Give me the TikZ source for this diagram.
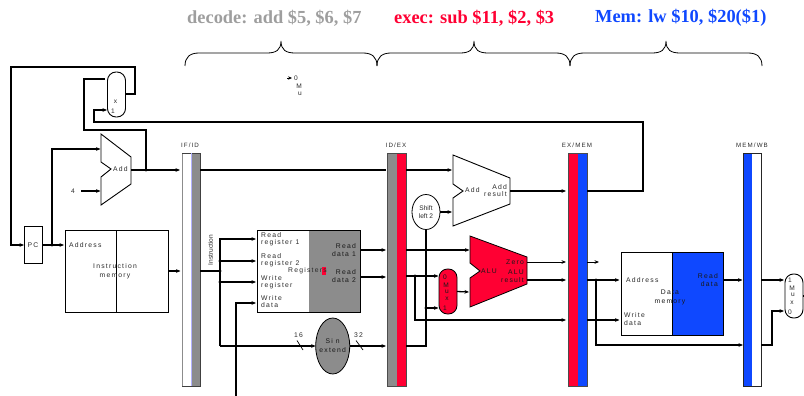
\documentclass[tikz,border=0pt]{standalone}
\usepackage{fontspec}
\setmainfont{Liberation Sans}
\newfontfamily\lsf[LetterSpace=18]{Liberation Sans}
\newfontfamily\tightf{Liberation Sans}
\newfontfamily\headf{Liberation Serif}
\usetikzlibrary{arrows.meta,calc,shapes.geometric}
\definecolor{pgray}{HTML}{8C8C8C}
\definecolor{pred}{HTML}{FF0033}
\definecolor{pblue}{HTML}{0F48FF}
\definecolor{tgray}{HTML}{2A2A2A}
\tikzset{
  wire/.style={line width=1.3pt,line cap=butt,line join=miter},
  thick wire/.style={line width=1.7pt,line join=miter},
  thin wire/.style={line width=0.9pt},
  tip/.style={-{Stealth[length=4.5pt,width=3.6pt]}},
  box/.style={draw=black,line width=0.9pt,inner sep=0pt,outer sep=0pt,fill=white},
  halfbox/.style={inner sep=0pt,outer sep=0pt},
  lab/.style={font=\fontsize{6.8}{7.4}\selectfont\lsf,text=tgray,inner sep=0pt,align=left},
  labc/.style={lab,align=center},
  labr/.style={lab,align=right},
  ondark/.style={text=black!90},
  small/.style={font=\fontsize{6.6}{7}\selectfont\tightf,text=tgray,inner sep=0pt,align=center},
  pipelab/.style={lab,font=\fontsize{6.2}{7}\selectfont\lsf},
  head/.style={font=\fontsize{18.4}{20}\selectfont\headf\bfseries,inner sep=0pt},
  dot/.style={circle,fill=black,inner sep=0pt,minimum size=3.2pt},
  bracel/.style={line width=0.8pt},
}
\begin{document}
\begin{tikzpicture}[x=1pt,y=-1pt]
\useasboundingbox (0,0) rectangle (804,396);

% headings
\node[head,text=black!38,anchor=west] (hdec) at (187,18) {decode: add \$5, \$6, \$7};
\node[head,text=pred,anchor=west] (hexe) at (394,18) {exec: sub \$11, \$2, \$3};
\node[head,text=pblue,anchor=west] (hmem) at (595,18) {Mem: lw \$10, \$20(\$1)};

% braces
\foreach \a/\t/\b in {185/281/377,377/474/570,570/666/762}{
  \draw[bracel] (\a,66) .. controls (\a,57) and (\a+5,53) .. (\a+14,53)
     -- (\t-14,53) .. controls (\t-5,53) and (\t,50) .. (\t,41)
     .. controls (\t,50) and (\t+5,53) .. (\t+14,53)
     -- (\b-14,53) .. controls (\b-5,53) and (\b,57) .. (\b,66);
}

% stray mux fragment
\node[small] (fz) at (296,78) {0};
\node[small] (fm) at (299,86) {M};
\node[small] (fu) at (300,94) {u};
\coordinate (fstart) at (287,78);
\coordinate (fend) at (292,78);
\draw[-{Stealth[length=4pt,width=3.4pt]},line width=0.5pt] (fstart) -- (fend);

% pipeline registers
\node[halfbox,fill=white,minimum width=9pt,minimum height=233pt] (ifl) at (186.5,269.5) {};
\node[halfbox,fill=pgray,minimum width=9pt,minimum height=233pt] (ifr) at (195.5,269.5) {};
\draw[black!45,line width=0.9pt] (ifl.north west) -- (ifl.south west);
\draw[black!75,line width=0.9pt] (ifl.north west) -- (ifr.north east) -- (ifr.south east) -- (ifl.south west);
\draw[blue!30,line width=0.7pt] (ifl.north east) -- (ifl.south east);
\node[pipelab] (tifid) at (190,145) {IF/ID};

\node[halfbox,fill=pgray,minimum width=10pt,minimum height=233pt] (idl) at (392,269.5) {};
\node[halfbox,fill=pred,minimum width=9pt,minimum height=233pt] (idr) at (401.5,269.5) {};
\draw[black!70,line width=0.9pt] (idl.north west) rectangle (idr.south east);
\node[pipelab] (tidex) at (396,145) {ID/EX};

\node[halfbox,fill=pred,minimum width=10pt,minimum height=233pt] (exl) at (573,269.5) {};
\node[halfbox,fill=pblue,minimum width=9pt,minimum height=233pt] (exr) at (582.5,269.5) {};
\draw[black!70,line width=0.9pt] (exl.north west) rectangle (exr.south east);
\node[pipelab] (texmem) at (577,145) {EX/MEM};

\node[halfbox,fill=pblue,minimum width=9pt,minimum height=233pt] (mwl) at (747.5,269.5) {};
\node[halfbox,fill=white,minimum width=9pt,minimum height=233pt] (mwr) at (756.5,269.5) {};
\draw[black!85,line width=0.9pt] (mwl.north west) rectangle (mwr.south east);
\node[pipelab] (tmemwb) at (752,145) {MEM/WB};

% PC
\node[box,minimum width=18pt,minimum height=37pt] (pc) at (33,244.5) {};
\node[lab] (tpc) at (33,245) {PC};

% instruction memory
\node[box,minimum width=103pt,minimum height=82pt] (imem) at (116.5,271) {};
\draw[line width=0.9pt] (imem.north) -- (imem.south);
\node[lab,anchor=west] (taddr) at (69,245) {Address};
\node[labc,font=\fontsize{6.8}{9}\selectfont\lsf] (tim) at (115,271) {Instruction\\memory};

% mux at top-left
\node[box,rounded corners=8.5pt,minimum width=18pt,minimum height=45pt] (pcmux) at (116.5,94.5) {};
\node[small] (tmx) at (115.5,102) {x};
\node[small] (tm1) at (113,111) {1};

% adders and ALU
\draw[line width=0.9pt,fill=white] (101,134) -- (131,157) -- (131,184) -- (101,205) -- (101,177) -- (111,169) -- (101,162) -- cycle;
\node[lab] (tadd1) at (120.5,169.5) {Add};
\node[small] (tfour) at (73,191) {4};

\draw[line width=0.9pt,fill=white] (453,155) -- (510,178) -- (510,204) -- (453,226) -- (453,198) -- (463,191) -- (453,184) -- cycle;
\node[lab] (tadd2) at (472.5,190.5) {Add};
\node[labr,anchor=east] (tadd3) at (507,190.5) {Add\\result};

\draw[line width=0.8pt,fill=pred] (470,236) -- (527,257) -- (527,284) -- (470,307) -- (470,278) -- (480,271) -- (470,263) -- cycle;
\node[lab,ondark] (talu) at (489,271) {ALU};
\node[lab,ondark,anchor=east] (tzero) at (524,262) {Zero};
\node[labr,ondark,anchor=east] (talu2) at (524,276) {ALU\\result};

% registers
\node[box,minimum width=103pt,minimum height=82pt] (regs) at (308.5,271) {};
\fill[pgray] (309,230.5) rectangle (359.5,311.5);
\draw[line width=0.9pt] (regs.north west) rectangle (regs.south east);
\fill[pred] (322,267) rectangle (326,275);
\node[lab] (treg) at (307.5,271) {Registers};
\node[lab,anchor=north west] (rr1) at (261,232) {Read\\register 1};
\node[lab,anchor=north west] (rr2) at (261,253) {Read\\register 2};
\node[lab,anchor=north west] (wr) at (261,275) {Write\\register};
\node[lab,anchor=north west] (wd) at (261,295) {Write\\data};
\node[labr,ondark,anchor=north east] (rd1) at (356,243.5) {Read\\data 1};
\node[labr,ondark,anchor=north east] (rd2) at (356,269.5) {Read\\data 2};

% sign extend and shift
\node[draw=black,line width=0.8pt,fill=pgray,ellipse,minimum width=34pt,minimum height=56pt,inner sep=0pt,outer sep=0pt] (sext) at (332.7,346) {};
\node[labc,ondark,font=\fontsize{6.8}{9}\selectfont\lsf] (tsext) at (332.7,345.5) {Si n\\extend};
\node[draw=black,line width=0.8pt,fill=white,ellipse,minimum width=28pt,minimum height=35pt,inner sep=0pt,outer sep=0pt] (shl) at (426,212) {};
\node[labc,font=\fontsize{6.6}{8.4}\selectfont\tightf] (tshl) at (426,212) {Shift\\left 2};

% red mux
\node[draw=black,line width=0.8pt,fill=pred,rounded corners=8.5pt,minimum width=18pt,minimum height=45pt,inner sep=0pt,outer sep=0pt] (alumux) at (448,291.5) {};
\node[small,ondark] (am0) at (445,277) {0};
\node[small,ondark] (amm) at (446,285) {M};
\node[small,ondark] (amu) at (447,291.5) {u};
\node[small,ondark] (amx) at (447,298.5) {x};
\node[small,ondark] (am1) at (445,308) {1};

% data memory
\node[box,minimum width=102pt,minimum height=83pt] (dmem) at (672,293.5) {};
\fill[pblue] (672,252.5) rectangle (722.5,334.5);
\draw[line width=0.9pt] (dmem.north west) rectangle (dmem.south east);
\draw[line width=0.9pt] (dmem.north) -- (dmem.south);
\node[lab,anchor=west] (dma) at (626,280) {Address};
\node[labr,ondark,anchor=north east] (dmr) at (718,273.5) {Read\\data};
\node[lab,anchor=north west] (dmw) at (624,312.5) {Write\\data};
\node[labc,ondark,font=\fontsize{6.8}{9}\selectfont\lsf] (dmd) at (670,297.5) {Data\\memory};

% write back mux
\node[box,rounded corners=8.5pt,minimum width=18pt,minimum height=44pt] (wbmux) at (794,296) {};
\node[small] (wb1) at (790,280) {1};
\node[small] (wbm) at (792,288) {M};
\node[small] (wbu) at (793,295) {u};
\node[small] (wbx) at (792,303) {x};
\node[small] (wb0) at (790,312) {0};

% junction coordinates
\coordinate (j1) at (52,245);
\coordinate (j2) at (146,170);
\coordinate (j3) at (220,271);
\coordinate (j4) at (220,261);
\coordinate (j5) at (220,282);
\coordinate (j6) at (415,276);
\coordinate (j7) at (426,308);
\coordinate (j8) at (596,280);
\coordinate (wdfree) at (236,396);
\coordinate (stub) at (804,296);

% PC loop
\draw[thick wire,tip] (pcmux.east |- 0,94) -- (135,94) -- (135,67) -- (11,67) -- (11,245) -- (pc.west |- 0,245);
\draw[thick wire] (105,79) -- (84,79) -- (84,130) -- (146,130) -- (j2);
\draw[wire,tip] (587,191) -- (643,191) -- (643,122) -- (94,122) -- (94,110) -- (107,110);
\draw[thick wire,tip] (pc.east |- 0,245) -- (64,245);
\draw[wire,tip] (j1) -- (52,149) -- (100.5,149);
\draw[thick wire,tip] (81,191) -- (100.5,191);
\draw[thick wire,tip] (131,170) -- (180,170);
\draw[wire,tip] (imem.east) -- (180.5,271);

% IF/ID outputs
\draw[wire] (ifr.east |- 0,170) -- (386,170);
\draw[wire] (ifr.east |- 0,271) -- (j3);
\draw[wire,tip] (220,346) -- (220,239) -- (256,239);
\draw[wire,tip] (j4) -- (256,261);
\draw[wire,tip] (j5) -- (256,282);
\draw[wire,tip] (220,346) -- (sext.west |- 0,346);
\draw[wire,tip] (wdfree) -- (236,303) -- (256,303);
\node[small,rotate=90] (tinstr) at (210.5,250) {Instruction};

% registers outputs
\draw[wire,tip] (regs.east |- 0,250) -- (386,250);
\draw[wire,tip] (regs.east |- 0,277) -- (386,277);
\draw[wire,tip] (sext.east) -- (386,346);
\draw[line width=0.7pt] (297,340.5) -- (303,350);
\draw[line width=0.7pt] (356,340.5) -- (363,350);
\node[small,font=\fontsize{6.8}{7.4}\selectfont\lsf] (t16) at (298.5,335) {16};
\node[small,font=\fontsize{6.8}{7.4}\selectfont\lsf] (t32) at (358.5,335) {32};

% ID/EX outputs
\draw[wire,tip] (idr.east |- 0,170) -- (452,170);
\draw[wire,tip] (shl.east) -- (452,212);
\draw[wire] (shl.south) -- (426,346) -- (idr.east |- 0,346);
\draw[wire,tip] (idr.east |- 0,250) -- (469.5,250);
\draw[wire,tip] (idr.east |- 0,276) -- (438.5,276);
\draw[wire,tip] (j6) -- (415,320) -- (566,320);
\draw[wire,tip] (j7) -- (438.5,308);
\draw[wire,tip] (alumux.east) -- (469,292);
\draw[wire,tip] (510,191) -- (566,191);
\draw[thin wire,tip] (527,262) -- (566,262);
\draw[wire,tip] (527,280) -- (566,280);

% EX/MEM outputs
\draw[thin wire,tip] (exr.east |- 0,262) -- (599,262);
\draw[wire,tip] (exr.east |- 0,280) -- (619.5,280);
\draw[wire,tip] (exr.east |- 0,320) -- (619.5,320);
\draw[wire,tip] (j8) -- (596,345) -- (743,345);

% MEM/WB
\draw[wire,tip] (dmem.east |- 0,280) -- (742.5,280);
\draw[wire,tip] (mwr.east |- 0,280) -- (784,280);
\draw[wire,tip] (mwr.east |- 0,345) -- (772,345) -- (772,311) -- (784,311);
\draw[wire] (wbmux.east) -- (stub);

% dots
\foreach \c in {j1,j2,j3,j4,j5,j6,j7,j8}{\node[dot] (d\c) at (\c) {};}
\end{tikzpicture}
\end{document}
